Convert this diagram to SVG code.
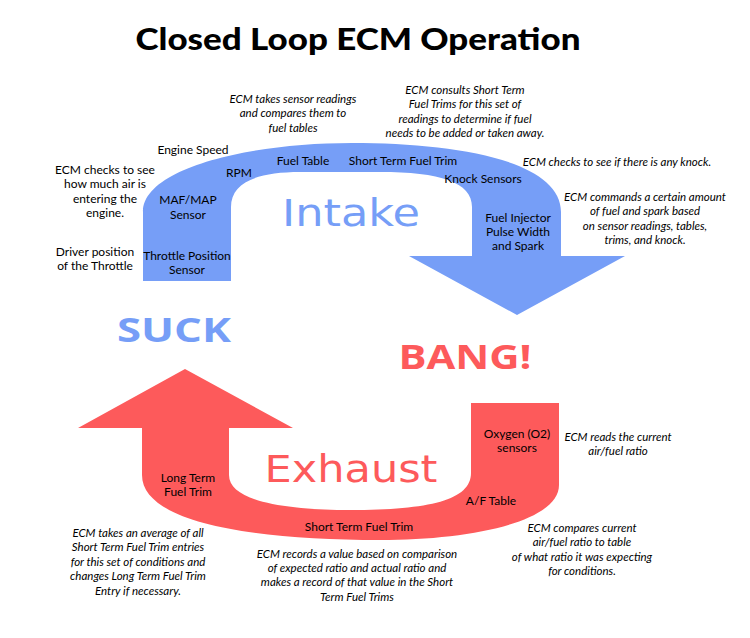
<svg xmlns="http://www.w3.org/2000/svg" width="750" height="638" viewBox="0 0 750 638">
<style>
text{font-family:Lato,"Open Sans","Liberation Sans",sans-serif;fill:#000;text-anchor:middle}
.title{font-size:31px;font-weight:900}
.lbl{font-size:12px}
.note{font-size:11.5px;font-style:italic}
.big{font-family:"DejaVu Sans",Verdana,sans-serif;font-size:37px}
.bold{font-family:"Open Sans",Lato,sans-serif;font-weight:bold;font-size:34px}
.blue{fill:#769ef7}
.red{fill:#fd5a5b}
</style>
<rect width="750" height="638" fill="#fff"/>
<text class="title" x="358" y="50" textLength="445" lengthAdjust="spacingAndGlyphs">Closed Loop ECM Operation</text>
<g id="connectors">
<path id="intake-arrow" class="blue" d="M143,281 V212 C143,168 250,143 352,143 C455,143 561,160 561,212 V256 H625 L517,315 L409,256 H472 V207 C472,182 440,172 380,172 H300 C258,172 231,182 231,207 V281 Z"/>
<path id="exhaust-arrow" class="red" d="M142,428 H78 L185,369 L293,428 H229 V475 C229,500 280,510 350,510 C430,510 471,500 471,473 V403 H559 V485 C559,522 470,540 380,540 C250,540 142,522 142,475 Z"/>
</g>
<g id="phases">
<text class="big blue" x="351" y="226" textLength="138" lengthAdjust="spacingAndGlyphs">Intake</text>
<text class="big red" x="351" y="482" font-size="33" textLength="173" lengthAdjust="spacingAndGlyphs">Exhaust</text>
<text class="bold blue" x="174" y="342" textLength="114" lengthAdjust="spacingAndGlyphs">SUCK</text>
<text class="bold red" x="465" y="369" textLength="133" lengthAdjust="spacingAndGlyphs">BANG!</text>
</g>
<g id="intake-labels">
<g id="engine-speed"><text class="lbl" x="193" y="154">Engine Speed</text></g>
<g id="rpm"><text class="lbl" x="239" y="177">RPM</text></g>
<g id="fuel-table"><text class="lbl" x="303" y="165">Fuel Table</text></g>
<g id="stft-top"><text class="lbl" x="403" y="165">Short Term Fuel Trim</text></g>
<g id="knock-sensors"><text class="lbl" x="483" y="183">Knock Sensors</text></g>
<g id="maf-map"><text class="lbl" x="188" y="204">MAF/MAP</text><text class="lbl" x="188" y="219">Sensor</text></g>
<g id="tps"><text class="lbl" x="187" y="260">Throttle Position</text><text class="lbl" x="187" y="274">Sensor</text></g>
<g id="injector"><text class="lbl" x="518" y="222">Fuel Injector</text><text class="lbl" x="518" y="236">Pulse Width</text><text class="lbl" x="518" y="250">and Spark</text></g>
</g>
<g id="intake-notes">
<g id="note-air"><text class="lbl" x="105" y="174">ECM checks to see</text><text class="lbl" x="105" y="188">how much air is</text><text class="lbl" x="105" y="203">entering the</text><text class="lbl" x="105" y="217">engine.</text></g>
<g id="note-driver"><text class="lbl" x="95" y="256">Driver position</text><text class="lbl" x="95" y="270">of the Throttle</text></g>
<g id="note-tables"><text class="note" x="293" y="103">ECM takes sensor readings</text><text class="note" x="293" y="117">and compares them to</text><text class="note" x="293" y="132">fuel tables</text></g>
<g id="note-stft"><text class="note" x="465" y="94">ECM consults Short Term</text><text class="note" x="465" y="108">Fuel Trims for this set of</text><text class="note" x="465" y="123">readings to determine if fuel</text><text class="note" x="465" y="137">needs to be added or taken away.</text></g>
<g id="note-knock"><text class="note" x="617" y="166">ECM checks to see if there is any knock.</text></g>
<g id="note-commands"><text class="note" x="645" y="201">ECM commands a certain amount</text><text class="note" x="645" y="215">of fuel and spark based</text><text class="note" x="645" y="230">on sensor readings, tables,</text><text class="note" x="645" y="244">trims, and knock.</text></g>
</g>
<g id="exhaust-labels">
<g id="o2"><text class="lbl" x="517" y="438">Oxygen (O2)</text><text class="lbl" x="517" y="452">sensors</text></g>
<g id="af-table"><text class="lbl" x="491" y="505">A/F Table</text></g>
<g id="stft-bottom"><text class="lbl" x="359" y="531">Short Term Fuel Trim</text></g>
<g id="ltft"><text class="lbl" x="188" y="482">Long Term</text><text class="lbl" x="188" y="496">Fuel Trim</text></g>
</g>
<g id="exhaust-notes">
<g id="note-reads"><text class="note" x="618" y="441">ECM reads the current</text><text class="note" x="618" y="455">air/fuel ratio</text></g>
<g id="note-compares"><text class="note" x="582" y="532">ECM compares current</text><text class="note" x="582" y="546">air/fuel ratio to table</text><text class="note" x="582" y="561">of what ratio it was expecting</text><text class="note" x="582" y="575">for conditions.</text></g>
<g id="note-records"><text class="note" x="357" y="558">ECM records a value based on comparison</text><text class="note" x="357" y="572">of expected ratio and actual ratio and</text><text class="note" x="357" y="586">makes a record of that value in the Short</text><text class="note" x="357" y="601">Term Fuel Trims</text></g>
<g id="note-average"><text class="note" x="138" y="537">ECM takes an average of all</text><text class="note" x="138" y="551">Short Term Fuel Trim entries</text><text class="note" x="138" y="566">for this set of conditions and</text><text class="note" x="138" y="580">changes Long Term Fuel Trim</text><text class="note" x="138" y="595">Entry if necessary.</text></g>
</g>
</svg>
